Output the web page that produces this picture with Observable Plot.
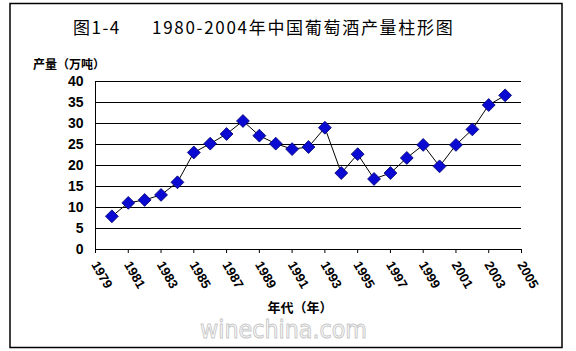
<!DOCTYPE html>
<html>
<head>
<meta charset="utf-8">
<script src="https://cdn.jsdelivr.net/npm/d3@7"></script>
<script src="https://cdn.jsdelivr.net/npm/@observablehq/plot@0.6"></script>
<style>
  html, body { margin: 0; padding: 0; background: #fff; }
  svg { display: block; }
</style>
</head>
<body>
<div id="chart"></div>
<script>
const years = [1980, 1981, 1982, 1983, 1984, 1985, 1986, 1987, 1988, 1989, 1990, 1991, 1992,
               1993, 1994, 1995, 1996, 1997, 1998, 1999, 2000, 2001, 2002, 2003, 2004];
const production = [7.9, 11.1, 11.8, 13.0, 16.0, 23.1, 25.2, 27.5, 30.6, 27.1, 25.2, 23.9, 24.4,
                    29.0, 18.2, 22.7, 16.8, 18.2, 21.8, 24.9, 19.8, 24.9, 28.6, 34.4, 36.7];
const xTickLabels = [1979, 1981, 1983, 1985, 1987, 1989, 1991, 1993, 1995, 1997, 1999, 2001, 2003, 2005];
const yTickLabels = [0, 5, 10, 15, 20, 25, 30, 35, 40];
const titlePrefix = "图1-4";
const titleText = "1980-2004年中国葡萄酒产量柱形图";
const yLabel = "产量（万吨）";
const xLabel = "年代（年）";
const watermark = "winechina.com";

const data = years.map((y, i) => ({year: y, value: production[i]}));

const W = 576, H = 351;
const chart = Plot.plot({
  width: W,
  height: H,
  marginLeft: 95,
  marginRight: 55,
  marginTop: 81,
  marginBottom: 102,
  style: {background: "#fff", fontFamily: "'Liberation Sans', Arial, sans-serif"},
  x: {domain: [1979, 2005], type: "linear"},
  y: {domain: [0, 40]},
  marks: [
    Plot.ruleY(yTickLabels.filter(d => d > 0), {stroke: "#000", strokeWidth: 1}),
    Plot.ruleY([0], {stroke: "#000", strokeWidth: 1}),
    Plot.ruleX([1979], {y1: 0, y2: 40, stroke: "#000", strokeWidth: 1}),
    Plot.axisY({ticks: yTickLabels, tickSize: 0, tickPadding: 12, fontSize: 14,
                fontWeight: "bold", label: null, fill: "#000"}),
    Plot.axisX({ticks: xTickLabels, tickSize: 4, tickFormat: () => "",
                label: null, stroke: "#000"}),
    Plot.text(xTickLabels, {x: d => d, y: () => 0, text: d => String(d), rotate: 60,
                textAnchor: "start", dy: 13, dx: -1, fontSize: 13, fontWeight: "bold",
                fill: "#000"}),
    Plot.line(data, {x: "year", y: "value", stroke: "#000", strokeWidth: 1}),
    Plot.dot(data, {x: "year", y: "value", symbol: "diamond2", r: 5.8,
                    fill: "#0a0ad2", stroke: "#00006e", strokeWidth: 0.8})
  ]
});

const svg = d3.select(chart);
// outer border
svg.append("rect")
  .attr("x", 10).attr("y", 3.5).attr("width", 552).attr("height", 344)
  .attr("fill", "none").attr("stroke", "#000").attr("stroke-width", 1.5);

svg.append("text")
  .attr("x", 73).attr("y", 34).attr("text-anchor", "start")
  .attr("font-family", "'Noto Sans CJK SC', sans-serif")
  .attr("font-size", 17).attr("letter-spacing", 1.5).attr("fill", "#000")
  .text(titlePrefix);
svg.append("text")
  .attr("x", 152).attr("y", 34).attr("text-anchor", "start")
  .attr("font-family", "'Noto Sans CJK SC', sans-serif")
  .attr("font-size", 17).attr("letter-spacing", 1.7).attr("fill", "#000")
  .text(titleText);

svg.append("text")
  .attr("x", 33).attr("y", 69).attr("text-anchor", "start")
  .attr("font-family", "'Noto Sans CJK SC', sans-serif")
  .attr("font-size", 12).attr("font-weight", "bold").attr("fill", "#000")
  .text(yLabel);

svg.append("text")
  .attr("x", 300).attr("y", 312).attr("text-anchor", "middle")
  .attr("font-family", "'Noto Sans CJK SC', sans-serif")
  .attr("font-size", 13).attr("font-weight", "bold").attr("fill", "#000")
  .text(xLabel);

svg.append("text")
  .attr("x", 200).attr("y", 338).attr("text-anchor", "start")
  .attr("font-family", "'DejaVu Sans', sans-serif")
  .attr("font-size", 24).attr("textLength", 167).attr("lengthAdjust", "spacingAndGlyphs")
  .attr("fill", "#fff").attr("stroke", "#c8c8c8").attr("stroke-width", 1)
  .text(watermark);

document.getElementById("chart").append(chart);
</script>
</body>
</html>
